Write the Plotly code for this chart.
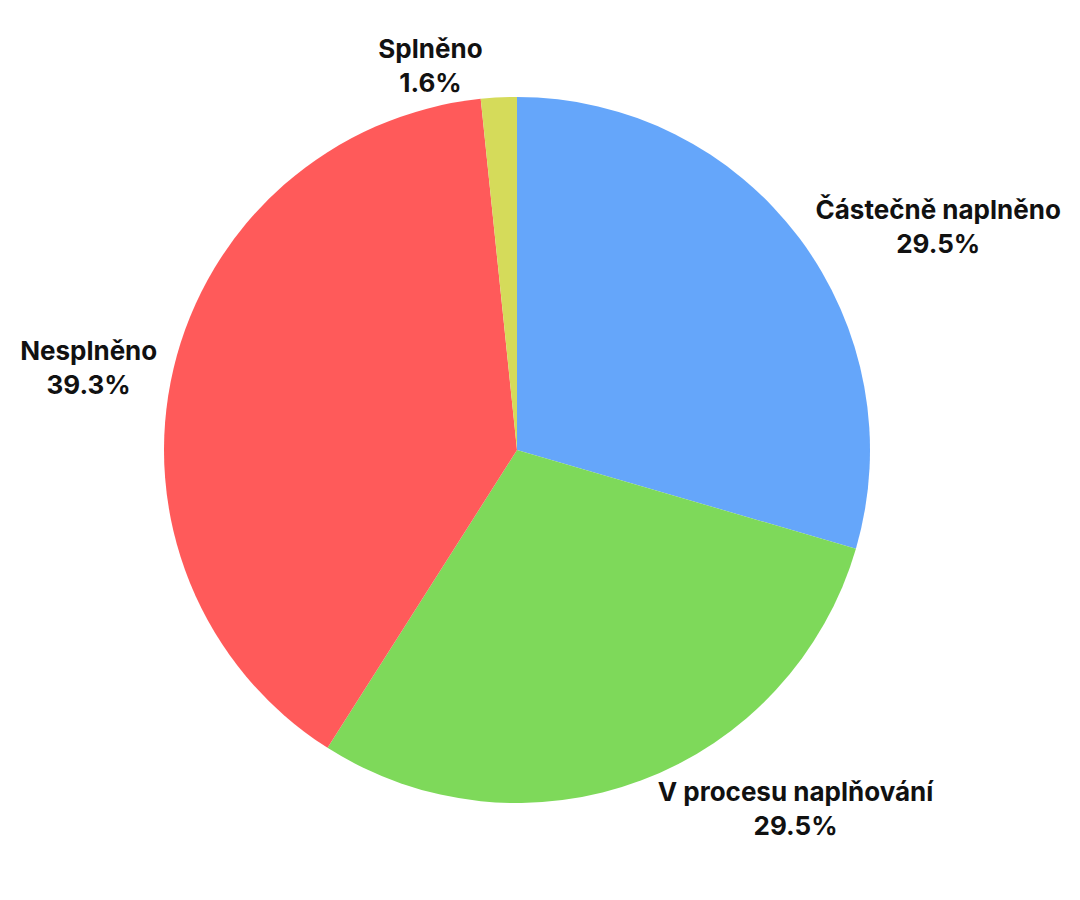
import plotly.graph_objects as go

labels = ["Částečně naplněno", "V procesu naplňování", "Nesplněno", "Splněno"]
counts = [18, 18, 24, 1]
colors = ["#65a6fa", "#7ed95a", "#ff5a5a", "#d5db5a"]

fig = go.Figure(
  go.Pie(
    labels=labels,
    values=counts,
    sort=False,
    direction="clockwise",
    rotation=0,
    marker=dict(colors=colors, line=dict(width=0)),
    texttemplate="<b>%{label}</b><br><b>%{percent:.1%}</b>",
    textposition="outside",
    textfont=dict(family="Inter", size=26, color="#111111"),
    showlegend=False,
  )
)

fig.update_layout(
  width=1080,
  height=900,
  paper_bgcolor="white",
  plot_bgcolor="white",
  margin=dict(l=156, r=218, t=89, b=105),
  font=dict(family="Inter"),
)

fig.write_html("out.html")
